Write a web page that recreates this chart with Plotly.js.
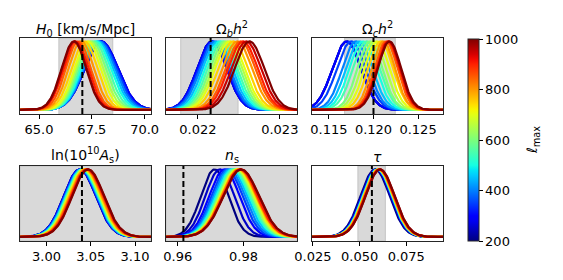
<!DOCTYPE html>
<html>
<head>
<meta charset="utf-8">
<script src="https://cdn.plot.ly/plotly-3.0.1.min.js"></script>
<style>html,body{margin:0;padding:0;background:#fff;}#chart{width:563px;height:280px;}</style>
</head>
<body>
<div id="chart"></div>
<script>
// ---- data ----
const lmax = [200,250,300,350,400,450,500,550,600,650,700,750,800,850,900,950,1000];

const h0Mean  = [67.95,67.95,67.95,67.90,67.85,67.78,67.70,67.60,67.50,67.40,67.30,67.15,67.00,66.86,66.75,66.68,66.65];
const h0Sigma = [0.78,0.78,0.78,0.76,0.74,0.72,0.70,0.68,0.66,0.64,0.62,0.61,0.60,0.59,0.59,0.58,0.58];

const obMean  = [0.02217,0.02217,0.02217,0.02219,0.02221,0.02224,0.02227,0.02230,0.02233,0.02236,0.02239,0.02243,0.02248,0.02252,0.02255,0.02259,0.02263];
const obSigma = [0.000180,0.000180,0.000180,0.000180,0.000180,0.000180,0.000180,0.000180,0.000180,0.000180,0.000180,0.000180,0.000180,0.000180,0.000180,0.000180,0.000180];

const ocMean  = [0.1170,0.1170,0.1170,0.1175,0.1180,0.1184,0.1188,0.1192,0.1196,0.1200,0.1204,0.1208,0.1211,0.1214,0.1216,0.1217,0.1218];
const ocSigma = [0.0016,0.0016,0.0016,0.0016,0.0015,0.0015,0.0015,0.0015,0.0014,0.0014,0.0014,0.0014,0.0013,0.0013,0.0013,0.0013,0.0013];

const asMean  = [3.0375,3.0375,3.0378,3.0384,3.0390,3.0396,3.0402,3.0408,3.0414,3.0420,3.0426,3.0432,3.0440,3.0450,3.0458,3.0465,3.0470];
const asSigma = [0.0180,0.0180,0.0180,0.0180,0.0180,0.0180,0.0180,0.0180,0.0180,0.0180,0.0180,0.0180,0.0180,0.0180,0.0180,0.0180,0.0180];

const nsMean  = [0.9712,0.9728,0.9742,0.9750,0.9756,0.9762,0.9767,0.9771,0.9775,0.9778,0.9781,0.9784,0.9786,0.9788,0.9790,0.9792,0.9793];
const nsSigma = [0.0042,0.0044,0.0046,0.0047,0.0048,0.0049,0.0050,0.0050,0.0051,0.0051,0.0052,0.0052,0.0053,0.0053,0.0053,0.0054,0.0054];

const tauMean  = [0.0583,0.0588,0.0592,0.0594,0.0595,0.0596,0.0597,0.0598,0.0599,0.0600,0.0601,0.0602,0.0603,0.0605,0.0607,0.0609,0.0610];
const tauSigma = [0.0078,0.0078,0.0078,0.0078,0.0078,0.0078,0.0078,0.0078,0.0078,0.0078,0.0078,0.0078,0.0078,0.0078,0.0078,0.0078,0.0078];

const titles = ['<i>H</i><sub>0</sub> [km/s/Mpc]', 'Ω<sub><i>b</i></sub><i>h</i><sup>2</sup>', 'Ω<sub><i>c</i></sub><i>h</i><sup>2</sup>',
                'ln(10<sup>10</sup><i>A</i><sub>s</sub>)', '<i>n</i><sub>s</sub>', '<i>τ</i>'];
const fiducial = [67.05, 0.022155, 0.1200, 3.040, 0.9617, 0.0566];
const bandLo = [65.94, 0.02179, 0.11676, 2.970, 0.9564, 0.0491];
const bandHi = [68.49, 0.02249, 0.12244, 3.118, 0.9963, 0.0638];
const xRanges = [[64.1,70.3],[0.02161,0.02321],[0.1131,0.1278],[2.970,3.118],[0.9564,0.9963],[0.0245,0.0947]];
const tickVals = [[65,67.5,70],[0.022,0.023],[0.115,0.120,0.125],[3.00,3.05,3.10],[0.96,0.98],[0.025,0.050,0.075]];
const tickText = [['65.0','67.5','70.0'],['0.022','0.023'],['0.115','0.120','0.125'],['3.00','3.05','3.10'],['0.96','0.98'],['0.025','0.050','0.075']];
const cbTicks = [200,400,600,800,1000];

// ---- matplotlib jet ----
const jetR = [[0,0],[0.35,0],[0.66,1],[0.89,1],[1,0.5]];
const jetG = [[0,0],[0.125,0],[0.375,1],[0.64,1],[0.91,0],[1,0]];
const jetB = [[0,0.5],[0.11,1],[0.34,1],[0.65,0],[1,0]];
function seg(p, t){
  for(let i=1;i<p.length;i++){
    if(t<=p[i][0]){const a=p[i-1],b=p[i];return a[1]+(b[1]-a[1])*(t-a[0])/(b[0]-a[0]);}
  }
  return p[p.length-1][1];
}
function jet(t){
  return 'rgb('+Math.round(255*seg(jetR,t))+','+Math.round(255*seg(jetG,t))+','+Math.round(255*seg(jetB,t))+')';
}
const jetScale = [];
for(let k=0;k<=40;k++){jetScale.push([k/40, jet(k/40)]);}

// ---- layout geometry ----
const W=563,H=280;
const colPx=[[20,151],[166,297],[312,443]];
const rowPx=[[38,114],[166,241]];
function xd(c){return [colPx[c][0]/W, colPx[c][1]/W];}
function yd(r){return [1-rowPx[r][1]/H, 1-rowPx[r][0]/H];}

const means=[h0Mean,obMean,ocMean,asMean,nsMean,tauMean];
const sigmas=[h0Sigma,obSigma,ocSigma,asSigma,nsSigma,tauSigma];

const traces=[];
const layout={
  width:W,height:H,margin:{l:0,r:0,t:0,b:0},
  paper_bgcolor:'#fff',plot_bgcolor:'rgba(0,0,0,0)',
  showlegend:false,
  font:{family:'DejaVu Sans',size:13,color:'#000'},
  shapes:[],annotations:[]
};

for(let p=0;p<6;p++){
  const ax = p===0?'':String(p+1);
  const col=p%3,row=Math.floor(p/3);
  const xr=xRanges[p];
  for(let i=0;i<lmax.length;i++){
    const xs=[],ys=[];
    const n=220;
    for(let k=0;k<=n;k++){
      const x=xr[0]+(xr[1]-xr[0])*k/n;
      const z=(x-means[p][i])/sigmas[p][i];
      xs.push(x);ys.push(Math.exp(-0.5*z*z));
    }
    traces.push({type:'scatter',mode:'lines',x:xs,y:ys,xaxis:'x'+ax,yaxis:'y'+ax,
      line:{color:jet((lmax[i]-200)/800),width:2.2},hoverinfo:'skip'});
  }
  layout['xaxis'+ax]={domain:xd(col),anchor:'y'+ax,range:xr,tickvals:tickVals[p],ticktext:tickText[p],
    ticks:'outside',ticklen:3.5,tickwidth:1,tickcolor:'#000',showline:true,mirror:true,linecolor:'#262626',linewidth:1,
    showgrid:false,zeroline:false,tickfont:{size:13,color:'#000'}};
  layout['yaxis'+ax]={domain:yd(row),anchor:'x'+ax,range:[-0.06,1.05],showticklabels:false,ticks:'',
    showline:true,mirror:true,linecolor:'#262626',linewidth:1,showgrid:false,zeroline:false};
  layout.shapes.push({type:'rect',xref:'x'+ax,yref:'y'+ax+' domain',x0:Math.max(bandLo[p],xr[0]),x1:Math.min(bandHi[p],xr[1]),y0:0,y1:1,
    fillcolor:'#d9d9d9',line:{color:'#c4c4c4',width:1},layer:'below'});
  layout.shapes.push({type:'line',xref:'x'+ax,yref:'y'+ax+' domain',x0:fiducial[p],x1:fiducial[p],y0:0,y1:1,
    line:{color:'#000',width:2,dash:'6px,3px'},layer:'above'});
  const d=xd(col),yy=yd(row);
  layout.annotations.push({text:titles[p],xref:'paper',yref:'paper',x:(d[0]+d[1])/2,y:yy[1],xanchor:'center',yanchor:'bottom',
    yshift:(row===0?-3:-1),showarrow:false,font:{size:14,color:'#000'}});
}

// colorbar carrier (points outside y range)
traces.push({type:'scatter',mode:'markers',x:[67,67],y:[-5,-5],xaxis:'x',yaxis:'y',hoverinfo:'skip',
  marker:{color:[200,1000],cmin:200,cmax:1000,colorscale:jetScale,size:1,showscale:true,
    colorbar:{x:468/W,xanchor:'left',y:1-140/H,yanchor:'middle',len:202,lenmode:'pixels',thickness:11,thicknessmode:'pixels',
      xpad:0,ypad:0,outlinewidth:1,outlinecolor:'#262626',ticks:'outside',ticklen:3.5,tickwidth:1,tickcolor:'#000',
      tickvals:cbTicks,ticktext:cbTicks.map(String),tickfont:{size:13,color:'#000'}}}});

layout.annotations.push({text:'<i>ℓ</i><sub>max</sub>',xref:'paper',yref:'paper',x:533/W,y:1-140/H,xanchor:'center',yanchor:'middle',
  textangle:-90,showarrow:false,font:{size:14,color:'#000'}});

Plotly.newPlot('chart',traces,layout,{staticPlot:true,displayModeBar:false});
</script>
</body>
</html>
